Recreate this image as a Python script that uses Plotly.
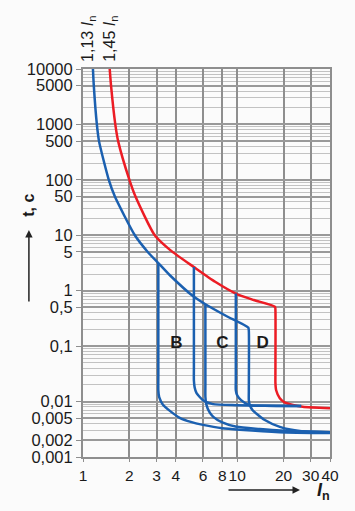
import math
import plotly.graph_objects as go

# ---- data ----
x_tickvals = [1, 2, 3, 4, 6, 8, 10, 20, 30, 40]
x_ticktext = ["1", "2", "3", "4", "6", "8", "10", "20", "30", "40"]
y_tickvals = [10000, 5000, 1000, 500, 100, 50, 10, 5, 1, 0.5, 0.1, 0.01, 0.005, 0.002, 0.001]
y_ticktext = ["10000", "5000", "1000", "500", "100", "50", "10", "5", "1", "0,5", "0,1",
              "0,01", "0,005", "0,002", "0,001"]

# upper curve 1,45 In (red) incl. D-type magnetic trip
red_x = [1.49, 1.52, 1.62, 1.69, 2.0, 2.19, 2.92, 3.68, 5.24, 7.2, 9.8, 12.8, 17.6, 17.7,
         17.7, 17.7, 17.9, 18.9, 20.3, 23.0, 26.6, 40]
red_y = [10000, 5000, 1000, 500, 100, 50, 10, 5.4, 2.67, 1.45, 0.89, 0.68, 0.51, 0.45,
         0.03, 0.022, 0.016, 0.0115, 0.0097, 0.0087, 0.0081, 0.0076]

# lower curve 1,13 In (blue) continuing into D lower trip
blue_x = [1.16, 1.175, 1.23, 1.27, 1.47, 1.61, 2.17, 2.63, 3.08, 3.66, 5.24, 6.22, 8.5, 11.8, 11.9,
          11.9, 11.9, 12.1, 12.6, 13.3, 15, 18.9, 26.6, 40]
blue_y = [10000, 5000, 1000, 500, 100, 50, 10, 5, 3.15, 1.9, 0.776, 0.57, 0.35, 0.216, 0.19,
          0.015, 0.0106, 0.0085, 0.007, 0.0061, 0.0047, 0.0035, 0.0029, 0.0028]

# B lower trip (from 1,13 curve at 3 In)
b_low_x = [3.08, 3.08, 3.08, 3.08, 3.12, 3.3, 3.66, 4.24, 5.0, 6.0, 8.0, 10.4, 18.8, 40]
b_low_y = [3.15, 2.8, 0.03, 0.016, 0.012, 0.0088, 0.0068, 0.0051, 0.0043, 0.0038, 0.0033, 0.0031, 0.0028, 0.0027]
# B upper trip (from 1,45 curve at 5 In)
b_up_x = [5.24, 5.24, 5.24, 5.24, 5.3, 5.45, 6.0, 6.97, 9.9, 15, 26]
b_up_y = [2.67, 2.4, 0.04, 0.024, 0.018, 0.0142, 0.0106, 0.009, 0.0086, 0.0084, 0.0083]
# C lower trip
c_low_x = [6.22, 6.22, 6.22, 6.22, 6.3, 6.6, 7.0, 8.0, 9.9, 14, 19, 40]
c_low_y = [0.57, 0.5, 0.02, 0.0122, 0.009, 0.0065, 0.0053, 0.0042, 0.0035, 0.0032, 0.003, 0.0028]
# C upper trip
c_up_x = [9.8, 9.8, 9.8, 9.8, 10.0, 10.6, 12.0, 15, 26]
c_up_y = [0.89, 0.8, 0.025, 0.016, 0.013, 0.0106, 0.0086, 0.0084, 0.0083]

type_labels = ["B", "C", "D"]
type_label_x = [4.04, 8.02, 14.6]
type_label_y = [0.112, 0.112, 0.112]

RED = "#ec1c24"
BLUE = "#1b60b0"
FONT = "Liberation Sans, Arial, sans-serif"

fig = go.Figure()


def curve(xs, ys, color):
    fig.add_trace(go.Scatter(x=xs, y=ys, mode="lines",
                             line=dict(color=color, width=2.5, shape="spline", smoothing=0.6),
                             hoverinfo="skip"))


curve(red_x, red_y, RED)
for xs, ys in [(blue_x, blue_y), (b_low_x, b_low_y), (b_up_x, b_up_y),
               (c_low_x, c_low_y), (c_up_x, c_up_y)]:
    curve(xs, ys, BLUE)
fig.add_trace(go.Scatter(x=type_label_x, y=type_label_y, mode="text",
                         text=["<b>%s</b>" % t for t in type_labels],
                         textfont=dict(size=17, color="#1a1a1a", family=FONT), hoverinfo="skip"))

minor_y = [m * 10 ** e for e in range(-3, 4) for m in range(2, 10)
           if not any(abs(m * 10 ** e - v) / v < 1e-6 for v in y_tickvals)]

GRID = "#8e8e8e"
fig.update_layout(
    width=355, height=511,
    margin=dict(l=83, r=25, t=69, b=54),
    paper_bgcolor="#fbfbfb", plot_bgcolor="#fbfbfb",
    showlegend=False,
    font=dict(family=FONT, size=16, color="#1a1a1a"),
    xaxis=dict(type="log", range=[0, math.log10(40)], tickmode="array",
               tickvals=x_tickvals, ticktext=x_ticktext, tickangle=0, automargin=False,
               showgrid=True, gridcolor=GRID, gridwidth=2,
               showline=True, linecolor=GRID, linewidth=2, mirror=True,
               ticks="outside", ticklen=3, tickcolor=GRID, zeroline=False,
               tickfont=dict(size=15.5)),
    yaxis=dict(type="log", range=[-3, 4], tickmode="array",
               tickvals=y_tickvals, ticktext=y_ticktext, automargin=False,
               showgrid=True, gridcolor="#999999", gridwidth=1.5,
               showline=True, linecolor=GRID, linewidth=2, mirror=True,
               ticks="outside", ticklen=5, tickcolor=GRID, zeroline=False,
               tickfont=dict(size=16.5),
               minor=dict(tickmode="array", tickvals=minor_y, showgrid=True,
                          gridcolor="#c2c2c2", gridwidth=1, ticks="")),
)

annotations = [
    dict(text="1,13 <i>I</i><sub>n</sub>", xref="paper", yref="paper", x=0.024, y=1.013,
         xanchor="center", yanchor="bottom", textangle=-90, showarrow=False,
         font=dict(size=16, color="#1a1a1a")),
    dict(text="1,45 <i>I</i><sub>n</sub>", xref="paper", yref="paper", x=0.113, y=1.013,
         xanchor="center", yanchor="bottom", textangle=-90, showarrow=False,
         font=dict(size=16, color="#1a1a1a")),
    dict(text="<b>t, c</b>", xref="paper", yref="paper", x=-0.219, y=0.65,
         xanchor="center", yanchor="middle", textangle=-90, showarrow=False,
         font=dict(size=16, color="#1a1a1a")),
    dict(text="", xref="paper", yref="paper", x=-0.219, y=0.585, ax=0, ay=73,
         showarrow=True, arrowhead=2, arrowsize=1, arrowwidth=1.5, arrowcolor="#222222"),
    dict(text="", xref="paper", yref="paper", x=0.8785, y=-0.085, ax=-73, ay=0,
         showarrow=True, arrowhead=2, arrowsize=1, arrowwidth=1.5, arrowcolor="#222222"),
    dict(text="<b><i>I</i></b><sub><b>n</b></sub>", xref="paper", yref="paper", x=0.972, y=-0.09,
         xanchor="center", yanchor="middle", showarrow=False,
         font=dict(size=18, color="#1a1a1a")),
]
fig.update_layout(annotations=annotations)

fig.write_html("out.html", config={"displayModeBar": False},
               post_script="document.body.style.margin='0';document.body.style.background='#fbfbfb';")
